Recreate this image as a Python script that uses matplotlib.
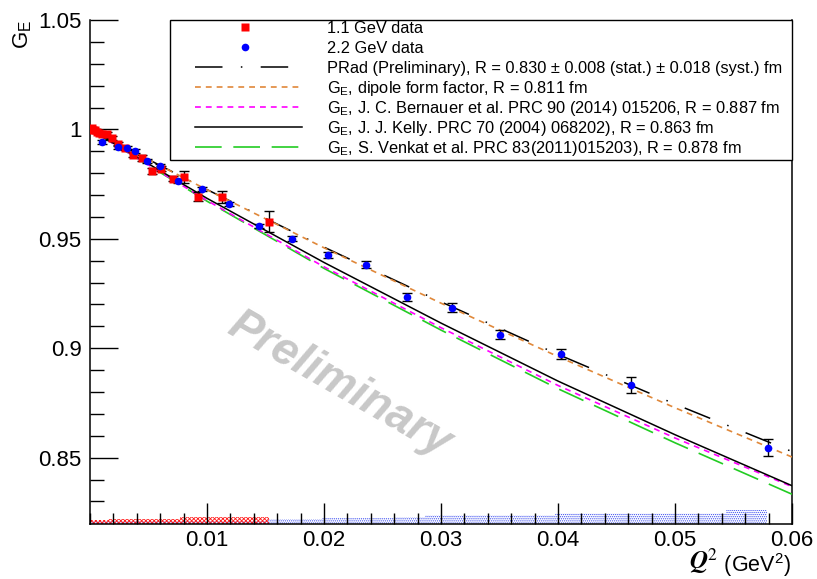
import numpy as np
import matplotlib
matplotlib.use("Agg")
import matplotlib.pyplot as plt
from matplotlib.patches import Rectangle
from matplotlib.ticker import MultipleLocator, FixedLocator, FormatStrFormatter

plt.rcParams['font.family'] = ['Liberation Sans', 'DejaVu Sans']
plt.rcParams['hatch.linewidth'] = 0.6

# ---------- data ----------
q2_11 = [0.00015, 0.00025, 0.0004, 0.0006, 0.0008, 0.00105, 0.00145, 0.0019, 0.0024,
         0.0030, 0.0037, 0.0044, 0.0053, 0.0061, 0.0071, 0.0080, 0.0092, 0.0113, 0.0153]
ge_11 = [1.0005, 0.9998, 0.9995, 0.9990, 0.9985, 0.9980, 0.9978, 0.9960, 0.9934,
         0.9916, 0.9884, 0.9870, 0.9810, 0.9820, 0.9774, 0.9783, 0.9692, 0.9692, 0.9578]
err_11 = [0.0008, 0.0008, 0.0008, 0.0008, 0.0008, 0.0008, 0.0010, 0.0010, 0.0010,
          0.0010, 0.0012, 0.0015, 0.0012, 0.0012, 0.0012, 0.0027, 0.0020, 0.0027, 0.0048]

q2_22 = [0.00102, 0.0024, 0.00316, 0.00384, 0.00486, 0.00597, 0.0075, 0.00956, 0.01186,
         0.01442, 0.01724, 0.02031, 0.02363, 0.02713, 0.03097, 0.03507, 0.04027, 0.04625, 0.05794]
ge_22 = [0.9943, 0.9920, 0.9916, 0.9902, 0.9856, 0.9833, 0.9765, 0.9728, 0.9660,
         0.9559, 0.9500, 0.9427, 0.9381, 0.9235, 0.9185, 0.9062, 0.8975, 0.8833, 0.8546]
err_22 = [0.0008, 0.0008, 0.0008, 0.0008, 0.0008, 0.0008, 0.0009, 0.0010, 0.0010,
          0.0011, 0.0012, 0.0014, 0.0016, 0.0018, 0.0020, 0.0020, 0.0023, 0.0037, 0.0040]

# model curves, sampled every 0.01 in Q^2
q2_curve = [0.0, 0.01, 0.02, 0.03, 0.04, 0.05, 0.06]
ge_prad = [1.0, 0.9725, 0.9462, 0.9212, 0.8972, 0.8745, 0.8528]
ge_dipole = [1.0, 0.9724, 0.9459, 0.9206, 0.8962, 0.8728, 0.8503]
ge_bernauer = [1.0, 0.9675, 0.9372, 0.9094, 0.8830, 0.8590, 0.8368]
ge_kelly = [1.0, 0.9685, 0.9392, 0.9115, 0.8850, 0.8605, 0.8372]
ge_venkat = [1.0, 0.9672, 0.9365, 0.9083, 0.8815, 0.8568, 0.8333]

# systematic uncertainty bands (bin edges and heights)
band_11_edges = [0.0, 0.0015, 0.0077, 0.0153]
band_11_height = [0.0018, 0.0022, 0.0032]
band_22_edges = [0.0, 0.0152, 0.0198, 0.0260, 0.0286, 0.0397, 0.0544, 0.0579]
band_22_height = [0.0014, 0.0021, 0.0029, 0.0033, 0.0041, 0.0052, 0.0064]

labels = ["1.1 GeV data", "2.2 GeV data",
          "PRad (Preliminary), R = 0.830 \u00b1 0.008 (stat.) \u00b1 0.018 (syst.) fm",
          r"G$_\mathregular{E}$, dipole form factor, R = 0.811 fm",
          r"G$_\mathregular{E}$, J. C. Bernauer et al. PRC 90 (2014) 015206, R = 0.887 fm",
          r"G$_\mathregular{E}$, J. J. Kelly. PRC 70 (2004) 068202), R = 0.863 fm",
          r"G$_\mathregular{E}$, S. Venkat et al. PRC 83(2011)015203), R = 0.878 fm"]

ymin, ymax = 0.8197, 1.05

fig = plt.figure(figsize=(8.17, 5.79), dpi=100)
ax = fig.add_axes([0.1102, 0.095, 0.8592, 0.8705])

# bands
e = np.array(band_22_edges)
h = np.append(band_22_height, band_22_height[-1])
ax.fill_between(e, ymin, ymin + h, step='post', facecolor='none', edgecolor='#3a4cf0',
                hatch='........', linewidth=0, zorder=1)
e = np.array(band_11_edges)
h = np.append(band_11_height, band_11_height[-1])
ax.fill_between(e, ymin, ymin + h, step='post', facecolor='none', edgecolor='#ff1a1a',
                hatch='xxxxxxxx', linewidth=0, zorder=1)

# curves
style_prad = dict(color='black', lw=1.1, dashes=(18, 12, 1, 12))
style_dip = dict(color='#e0883a', lw=1.2, dashes=(3.5, 3))
style_ber = dict(color='#ff00ff', lw=1.2, dashes=(3.5, 3))
style_kel = dict(color='black', lw=1.1)
style_ven = dict(color='#22cc22', lw=1.2, dashes=(16, 7))
ax.plot(q2_curve, ge_prad, zorder=3, **style_prad)
ax.plot(q2_curve, ge_dipole, zorder=3, **style_dip)
ax.plot(q2_curve, ge_bernauer, zorder=3, **style_ber)
ax.plot(q2_curve, ge_kelly, zorder=3, **style_kel)
ax.plot(q2_curve, ge_venkat, zorder=2.9, **style_ven)

# data
ax.errorbar(q2_11, ge_11, yerr=err_11, fmt='none', ecolor='black', elinewidth=1,
            capsize=3.5, capthick=1, zorder=4)
ax.errorbar(q2_22, ge_22, yerr=err_22, fmt='none', ecolor='black', elinewidth=1,
            capsize=3.5, capthick=1, zorder=4)
sty_11 = dict(marker='s', color='#ff0000', ms=6, mec='none', ls='none')
sty_22 = dict(marker='o', color='#0000ff', ms=5.5, mec='none', ls='none')
ax.plot(q2_11, ge_11, zorder=5, **sty_11)
ax.plot(q2_22, ge_22, zorder=5, **sty_22)

ax.set_xlim(0, 0.06)
ax.set_ylim(ymin, ymax)

ax.xaxis.set_major_locator(FixedLocator([0.01, 0.02, 0.03, 0.04, 0.05, 0.06]))
ax.xaxis.set_minor_locator(MultipleLocator(0.002))
ax.xaxis.set_major_formatter(FormatStrFormatter('%g'))
ax.yaxis.set_major_locator(FixedLocator([0.85, 0.9, 0.95, 1.0, 1.05]))
ax.yaxis.set_minor_locator(FixedLocator(np.arange(0.83, 1.05, 0.01)))
ax.yaxis.set_major_formatter(FormatStrFormatter('%g'))

ax.tick_params(which='both', direction='in', top=False, right=False, labelsize=16, width=1)
ax.tick_params(axis='x', which='major', length=15, pad=4)
ax.tick_params(axis='x', which='minor', length=8)
ax.tick_params(axis='y', which='major', length=20, pad=6)
ax.tick_params(axis='y', which='minor', length=10)
ax.spines['top'].set_visible(False)
for s in ['left', 'bottom', 'right']:
    ax.spines[s].set_linewidth(1.1)

# axis titles
fig.text(0.028, 0.966, r'G$_\mathregular{E}$', rotation=90, ha='center', va='top', fontsize=16)
t_unit = fig.text(0.968, 0.012, ' (GeV$^\\mathregular{2}$)', ha='right', va='baseline',
                  fontsize=15.5)
ax.annotate(r'$\mathbfit{Q}^{2}$', xy=(0, 0.12), xycoords=t_unit, ha='right', va='bottom',
            math_fontfamily='stix', fontsize=18, annotation_clip=False)

# watermark
ax.text(0.0213, 0.8833, 'Preliminary', rotation=-30, rotation_mode='anchor',
        ha='center', va='center', fontsize=33, fontweight='bold', fontstyle='italic',
        color='#c8c8c8', zorder=0.5)

# legend box (drawn by hand so the layout matches the ROOT legend)
def fx(px):
    return (px - 90) / 702.0

def fy(py):
    return (524 - py) / 504.0

ax.add_patch(Rectangle((fx(170), fy(160)), fx(792) - fx(170), fy(20) - fy(160),
                       transform=ax.transAxes, facecolor='white', edgecolor='black',
                       lw=1.0, zorder=6, clip_on=False))
rows = [27, 47, 67, 87, 107, 127, 147]
handles = [sty_11, sty_22, style_prad, style_dip, style_ber, style_kel, style_ven]
for i, (row, hs, lab) in enumerate(zip(rows, handles, labels)):
    if i < 2:
        ax.plot([fx(245)], [fy(row)], transform=ax.transAxes, zorder=7, clip_on=False, **hs)
    else:
        ax.plot([fx(195), fx(302)], [fy(row), fy(row)], transform=ax.transAxes, zorder=7,
                clip_on=False, **hs)
    ax.text(fx(327), fy(row + 6), lab, transform=ax.transAxes, ha='left', va='baseline',
            fontsize=11.8, zorder=7)

fig.savefig('out.png', dpi=100)
